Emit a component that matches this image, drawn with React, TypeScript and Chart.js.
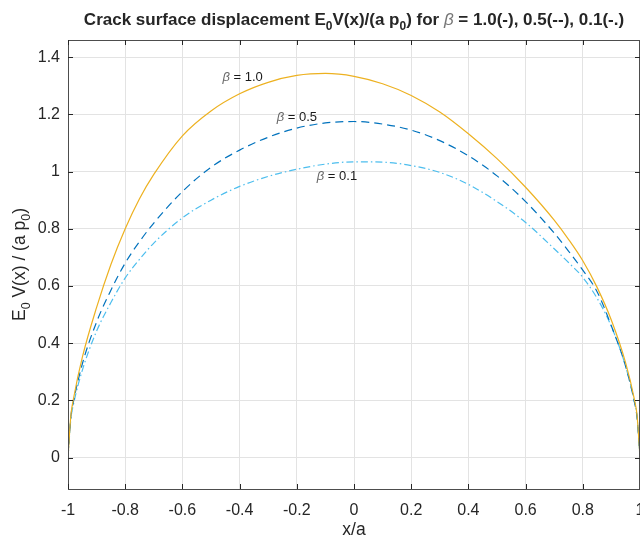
import React, { useEffect, useRef } from "react";
import { Chart, registerables } from "chart.js";

Chart.register(...registerables);

// ---- data ----
const xValues = [-1, -0.99, -0.98, -0.95, -0.9, -0.85, -0.8, -0.75, -0.7, -0.6, -0.5, -0.4, -0.3, -0.2, -0.1, 0, 0.1, 0.2, 0.3, 0.4, 0.5, 0.6, 0.7, 0.75, 0.8, 0.85, 0.9, 0.95, 0.98, 0.99, 1];
const beta10 = [0, 0.147, 0.21, 0.35, 0.525, 0.675, 0.8, 0.905, 0.99, 1.125, 1.212, 1.272, 1.312, 1.336, 1.343, 1.333, 1.307, 1.266, 1.208, 1.132, 1.045, 0.945, 0.83, 0.763, 0.688, 0.595, 0.48, 0.33, 0.205, 0.145, 0];
const beta05 = [0, 0.142, 0.2, 0.327, 0.474, 0.585, 0.68, 0.755, 0.82, 0.93, 1.015, 1.075, 1.12, 1.152, 1.17, 1.175, 1.166, 1.145, 1.108, 1.055, 0.985, 0.895, 0.785, 0.722, 0.655, 0.58, 0.46, 0.318, 0.196, 0.138, 0];
const beta01 = [0, 0.135, 0.19, 0.305, 0.442, 0.542, 0.628, 0.693, 0.75, 0.838, 0.9, 0.948, 0.983, 1.008, 1.026, 1.034, 1.033, 1.021, 0.997, 0.955, 0.895, 0.822, 0.73, 0.682, 0.63, 0.557, 0.458, 0.318, 0.196, 0.138, 0];

const xTicks = [-1, -0.8, -0.6, -0.4, -0.2, 0, 0.2, 0.4, 0.6, 0.8, 1];
const yTicks = [0, 0.2, 0.4, 0.6, 0.8, 1, 1.2, 1.4];
const xLimits = [-1, 1];
const yLimits = [-0.11, 1.46];

const annotX = [-0.46, -0.27, -0.13];
const annotY = [1.33, 1.19, 0.984];
const annotValue = ["1.0", "0.5", "0.1"];

const FONT = "'Liberation Sans', Arial, Helvetica, sans-serif";
const AXIS_COLOR = "#262626";

type Seg = { t: string; font: string; dy?: number; color?: string };

function drawRich(ctx: CanvasRenderingContext2D, segs: Seg[], x: number, y: number) {
  let total = 0;
  for (const s of segs) {
    ctx.font = s.font;
    total += ctx.measureText(s.t).width;
  }
  let cx = x - total / 2;
  ctx.textAlign = "left";
  ctx.textBaseline = "alphabetic";
  for (const s of segs) {
    ctx.font = s.font;
    ctx.fillStyle = s.color || AXIS_COLOR;
    ctx.fillText(s.t, cx, y + (s.dy || 0));
    cx += ctx.measureText(s.t).width;
  }
}

const decorPlugin = {
  id: "decor",
  beforeDraw(chart: any) {
    const { ctx } = chart;
    ctx.save();
    ctx.fillStyle = "#ffffff";
    ctx.fillRect(0, 0, chart.width, chart.height);
    ctx.restore();
  },
  afterDraw(chart: any) {
    const { ctx, chartArea: a, scales } = chart;
    const xs = scales.x;
    const ys = scales.y;
    ctx.save();
    // box
    ctx.strokeStyle = "#4d4d4d";
    ctx.lineWidth = 1;
    ctx.strokeRect(Math.round(a.left) + 0.5, Math.round(a.top) + 0.5, Math.round(a.right - a.left) - 1, Math.round(a.bottom - a.top));
    // inward ticks
    ctx.strokeStyle = AXIS_COLOR;
    const tl = 5;
    ctx.beginPath();
    for (const v of xTicks) {
      const px = Math.round(xs.getPixelForValue(v)) + 0.5;
      ctx.moveTo(px, a.bottom);
      ctx.lineTo(px, a.bottom - tl);
      ctx.moveTo(px, a.top);
      ctx.lineTo(px, a.top + tl);
    }
    for (const v of yTicks) {
      const py = Math.round(ys.getPixelForValue(v)) + 0.5;
      ctx.moveTo(a.left, py);
      ctx.lineTo(a.left + tl, py);
      ctx.moveTo(a.right, py);
      ctx.lineTo(a.right - tl, py);
    }
    ctx.stroke();

    // annotations
    for (let i = 0; i < annotX.length; i++) {
      const px = xs.getPixelForValue(annotX[i]);
      const py = ys.getPixelForValue(annotY[i]);
      ctx.textBaseline = "middle";
      ctx.textAlign = "left";
      ctx.font = `italic 13px ${FONT}`;
      ctx.fillStyle = "#666666";
      ctx.fillText("β", px, py);
      const w = ctx.measureText("β").width;
      ctx.font = `13px ${FONT}`;
      ctx.fillStyle = "#1a1a1a";
      ctx.fillText(" = " + annotValue[i], px + w, py);
    }

    // title
    const cx = (a.left + a.right) / 2;
    const tb = `bold 17px ${FONT}`;
    const ts = `bold 12px ${FONT}`;
    drawRich(
      ctx,
      [
        { t: "Crack surface displacement E", font: tb },
        { t: "0", font: ts, dy: 5 },
        { t: "V(x)/(a p", font: tb },
        { t: "0", font: ts, dy: 5 },
        { t: ") for ", font: tb },
        { t: "β", font: `italic 17px ${FONT}`, color: "#777777" },
        { t: " = 1.0(-), 0.5(--), 0.1(-.)", font: tb },
      ],
      cx,
      25
    );

    // x label
    ctx.font = `17.5px ${FONT}`;
    ctx.fillStyle = AXIS_COLOR;
    ctx.textAlign = "center";
    ctx.textBaseline = "alphabetic";
    ctx.fillText("x/a", cx, 535);

    // y label
    ctx.translate(25, (a.top + a.bottom) / 2);
    ctx.rotate(-Math.PI / 2);
    const yl = `17.5px ${FONT}`;
    const ys2 = `12.5px ${FONT}`;
    drawRich(
      ctx,
      [
        { t: "E", font: yl },
        { t: "0", font: ys2, dy: 5 },
        { t: " V(x) / (a p", font: yl },
        { t: "0", font: ys2, dy: 5 },
        { t: ")", font: yl },
      ],
      0,
      0
    );
    ctx.restore();
  },
};

function fmt(v: number) {
  const r = Math.round(v * 10) / 10;
  return String(r);
}

export default function App() {
  const ref = useRef<HTMLCanvasElement | null>(null);
  useEffect(() => {
    document.body.style.margin = "0";
    document.body.style.overflow = "hidden";
    const canvas = ref.current!;
    const mk = (ys: number[]) => xValues.map((x, i) => ({ x, y: ys[i] }));
    const chart = new Chart(canvas, {
      type: "line",
      data: {
        datasets: [
          {
            label: "β = 1.0",
            data: mk(beta10),
            borderColor: "#EDB120",
            borderWidth: 1.2,
            pointRadius: 0,
            cubicInterpolationMode: "monotone",
          },
          {
            label: "β = 0.5",
            data: mk(beta05),
            borderColor: "#0072BD",
            borderWidth: 1.2,
            borderDash: [8, 5],
            pointRadius: 0,
            cubicInterpolationMode: "monotone",
          },
          {
            label: "β = 0.1",
            data: mk(beta01),
            borderColor: "#4DBEEE",
            borderWidth: 1.2,
            borderDash: [7, 3, 1.5, 3],
            pointRadius: 0,
            cubicInterpolationMode: "monotone",
          },
        ],
      },
      options: {
        animation: false,
        responsive: false,
        maintainAspectRatio: false,
        layout: { padding: { top: 40, right: 0, left: 0, bottom: 0 } },
        plugins: { legend: { display: false }, tooltip: { enabled: false }, title: { display: false } },
        scales: {
          x: {
            type: "linear",
            min: xLimits[0],
            max: xLimits[1],
            border: { display: false },
            grid: { color: "#e3e3e3", drawTicks: false, lineWidth: 1 },
            afterBuildTicks: (s: any) => {
              s.ticks = xTicks.map((v) => ({ value: v }));
            },
            afterFit: (s: any) => {
              s.height = 49;
              s.paddingLeft = 0;
              s.paddingRight = 0;
            },
            ticks: {
              autoSkip: false,
              maxRotation: 0,
              padding: 12,
              color: AXIS_COLOR,
              font: { family: FONT, size: 16 },
              callback: (v: any) => fmt(Number(v)),
            },
          },
          y: {
            type: "linear",
            min: yLimits[0],
            max: yLimits[1],
            border: { display: false },
            grid: { color: "#e3e3e3", drawTicks: false, lineWidth: 1 },
            afterBuildTicks: (s: any) => {
              s.ticks = yTicks.map((v) => ({ value: v }));
            },
            afterFit: (s: any) => {
              s.width = 68;
              s.paddingTop = 0;
              s.paddingBottom = 0;
            },
            ticks: {
              autoSkip: false,
              padding: 8,
              color: AXIS_COLOR,
              font: { family: FONT, size: 16 },
              callback: (v: any) => fmt(Number(v)),
            },
          },
        },
      },
      plugins: [decorPlugin],
    });
    return () => chart.destroy();
  }, []);
  return (
    <div style={{ width: 640, height: 538 }}>
      <canvas ref={ref} width={640} height={538} style={{ display: "block" }} />
    </div>
  );
}
